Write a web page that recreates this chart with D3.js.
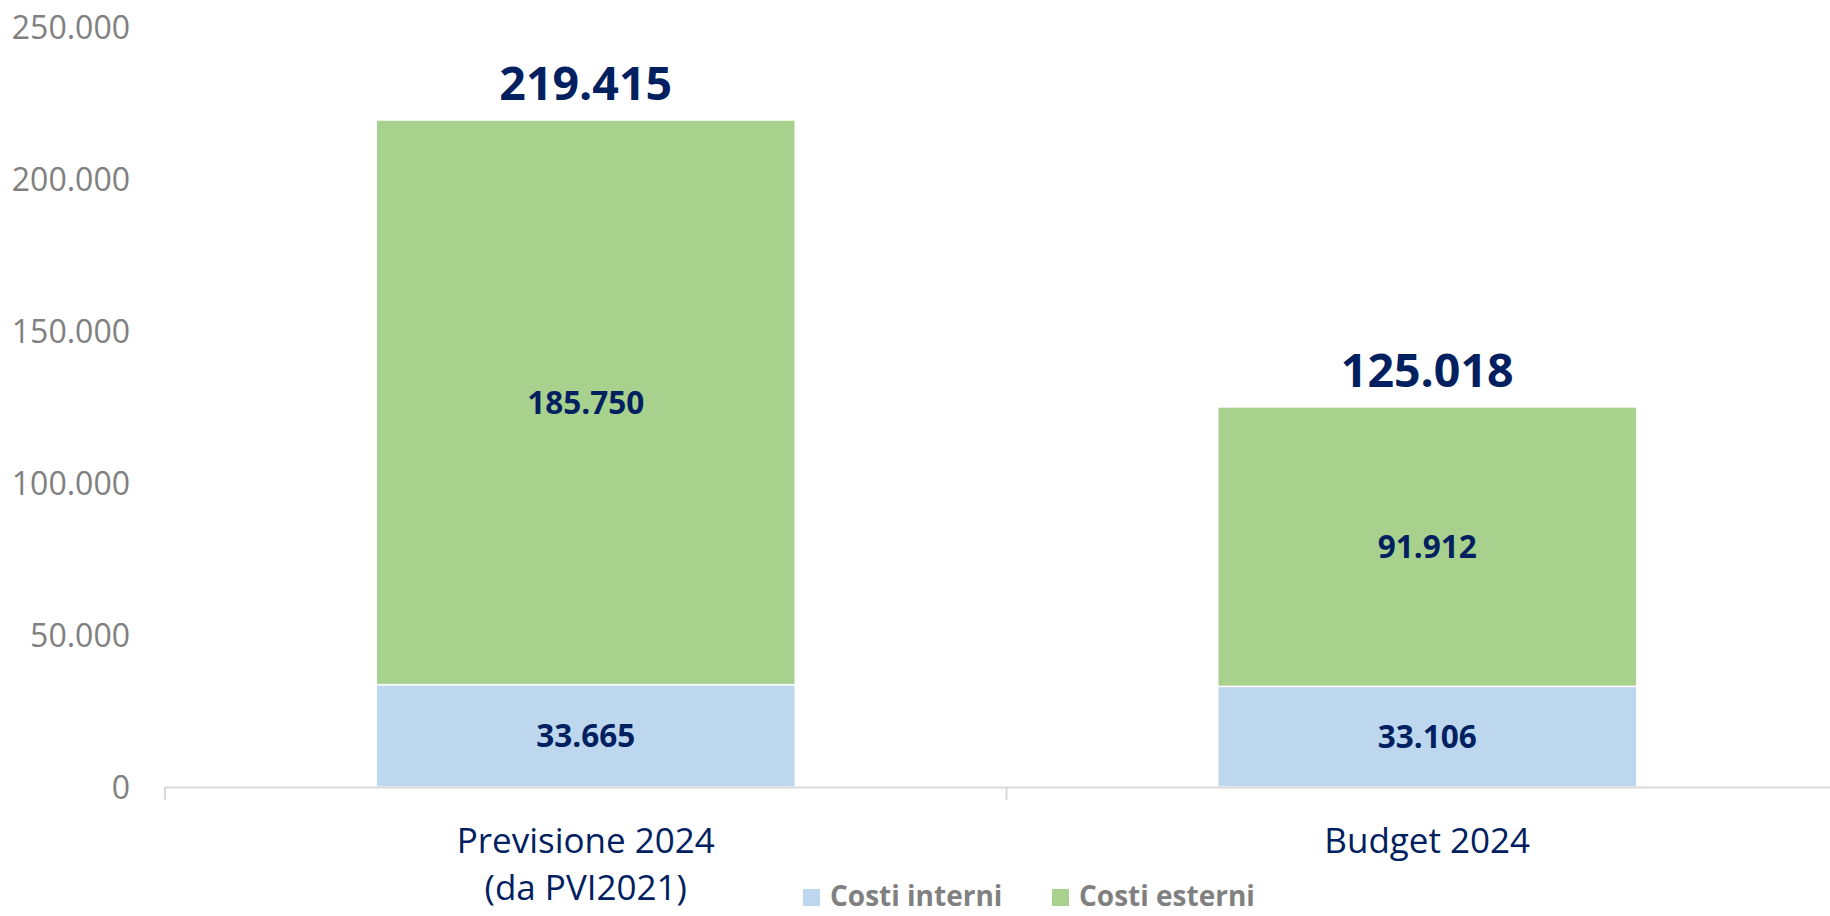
<!DOCTYPE html>
<html>
<head>
<meta charset="utf-8">
<script src="https://cdn.jsdelivr.net/npm/d3@7"></script>
<style>
  body { margin: 0; background: #fff; }
  svg { display: block; font-family: "Open Sans", sans-serif; }
</style>
</head>
<body>
<div id="chart"></div>
<script>
// chart data
const categories = ["Previsione 2024|(da PVI2021)", "Budget 2024"];
const seriesNames = ["Costi interni", "Costi esterni"];
const costiInterni = [33665, 33106];
const costiEsterni = [185750, 91912];
const yTicks = [0, 50000, 100000, 150000, 200000, 250000];

const colors = ["#BDD7EE", "#A9D18E"];
const navy = "#002060";
const gray = "#808080";
const font = "'Open Sans', sans-serif";

const width = 1830, height = 916;
const margin = { top: 27, right: -18, bottom: 129, left: 165 };

const it = d3.formatLocale({ decimal: ",", thousands: ".", grouping: [3], currency: ["", "€"] });
const fmt = it.format(",d");

const svg = d3.select("#chart").append("svg")
    .attr("width", width)
    .attr("height", height);

// scales
const x = d3.scaleBand()
    .domain(categories)
    .range([margin.left, width - margin.right])
    .padding(0);

const y = d3.scaleLinear()
    .domain([0, 250000])
    .range([height - margin.bottom, margin.top]);

const barW = x.bandwidth() * 0.498;

// stacked data
const rows = categories.map((c, i) => ({ cat: c, interni: costiInterni[i], esterni: costiEsterni[i] }));
const stack = d3.stack().keys(["interni", "esterni"])(rows);

// y axis labels (no line)
const yAxis = svg.append("g")
    .attr("transform", `translate(${margin.left - 32},0)`)
    .call(d3.axisLeft(y).tickValues(yTicks).tickFormat(fmt).tickSize(0));
yAxis.select(".domain").remove();
yAxis.attr("font-family", font);
yAxis.selectAll("text")
    .attr("fill", gray)
    .attr("font-size", 32)
    .attr("dy", "0.35em");

// bars
stack.forEach((layer, k) => {
    svg.append("g")
        .selectAll("rect")
        .data(layer)
        .join("rect")
        .attr("x", d => x(d.data.cat) + (x.bandwidth() - barW) / 2)
        .attr("width", barW)
        .attr("y", d => y(d[1]))
        .attr("height", d => y(d[0]) - y(d[1]))
        .attr("fill", colors[k])
        .attr("stroke", "#fff")
        .attr("stroke-width", 1.5);

    // segment values
    svg.append("g")
        .selectAll("text")
        .data(layer)
        .join("text")
        .attr("x", d => x(d.data.cat) + x.bandwidth() / 2)
        .attr("y", d => (y(d[0]) + y(d[1])) / 2)
        .attr("dy", "0.36em")
        .attr("text-anchor", "middle")
        .attr("font-size", 31.5)
        .attr("font-weight", 700)
        .attr("fill", navy)
        .text(d => fmt(d[1] - d[0]));
});

// totals
svg.append("g")
    .selectAll("text")
    .data(rows)
    .join("text")
    .attr("x", d => x(d.cat) + x.bandwidth() / 2)
    .attr("y", d => y(d.interni + d.esterni) - 20)
    .attr("text-anchor", "middle")
    .attr("font-size", 46.5)
    .attr("font-weight", 700)
    .attr("fill", navy)
    .text(d => fmt(d.interni + d.esterni));

// x axis
const xAxis = svg.append("g")
    .attr("transform", `translate(0,${y(0)})`)
    .call(d3.axisBottom(x).tickSize(0).tickFormat(""));
xAxis.attr("font-family", font);
xAxis.select(".domain").attr("stroke", "#d9d9d9").attr("stroke-width", 2);
xAxis.selectAll(".tick").remove();

// boundary ticks between categories
const edges = categories.map(c => x(c)).concat([x.range()[1]]);
xAxis.selectAll("line.edge")
    .data(edges)
    .join("line")
    .attr("class", "edge")
    .attr("x1", d => d).attr("x2", d => d)
    .attr("y1", 0).attr("y2", 13)
    .attr("stroke", "#d9d9d9")
    .attr("stroke-width", 2);

// category labels
const catText = xAxis.selectAll("text.cat")
    .data(categories)
    .join("text")
    .attr("class", "cat")
    .attr("x", d => x(d) + x.bandwidth() / 2)
    .attr("y", 66)
    .attr("text-anchor", "middle")
    .attr("font-family", font)
    .attr("font-size", 35)
    .attr("fill", navy);
catText.selectAll("tspan")
    .data(d => d.split("|"))
    .join("tspan")
    .attr("x", function() { return d3.select(this.parentNode).attr("x"); })
    .attr("dy", (d, i) => i === 0 ? 0 : 47)
    .text(d => d);

// legend
const legend = svg.append("g").attr("transform", "translate(803,906)");
const legX = [0, 249];
seriesNames.forEach((name, i) => {
    const g = legend.append("g").attr("transform", `translate(${legX[i]},0)`);
    g.append("rect")
        .attr("x", 0).attr("y", -17)
        .attr("width", 17).attr("height", 17)
        .attr("fill", colors[i]);
    g.append("text")
        .attr("x", 27)
        .attr("y", 0)
        .attr("font-size", 28)
        .attr("font-weight", 700)
        .attr("fill", gray)
        .text(name);
});
</script>
</body>
</html>
